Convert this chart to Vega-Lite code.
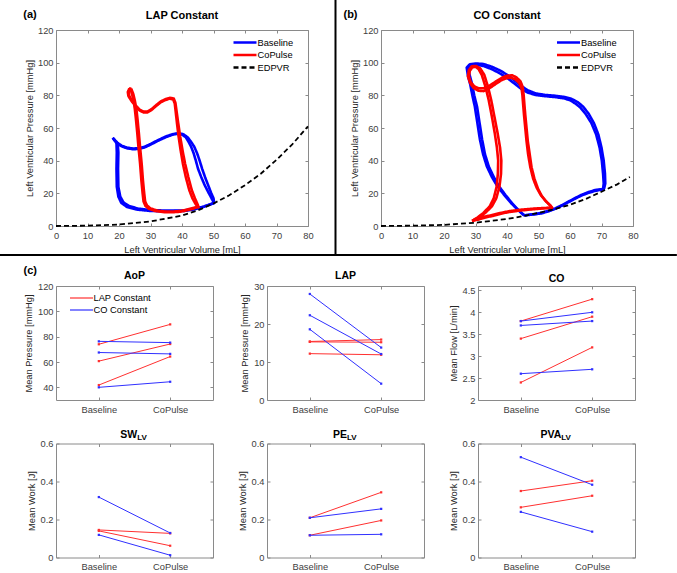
{
  "$schema": "https://vega.github.io/schema/vega-lite/v6.json",
  "autosize": {"type": "none"},
  "padding": {"left": 56, "top": 30, "right": 621, "bottom": 543},
  "background": "white",
  "config": {
    "font": "Liberation Sans",
    "view": {"stroke": "#8a8a8a", "strokeWidth": 1},
    "axis": {"domain": false, "grid": false, "labelFontSize": 9.3, "titleFontSize": 9.3, "titleFontWeight": "normal", "labelColor": "#404040", "titleColor": "#262626", "tickColor": "#8a8a8a", "tickSize": -3, "labelPadding": 6, "titlePadding": 3, "labelFlush": false, "labelOverlap": false, "format": "~r"},
    "axisX": {"labelPadding": 8, "titlePadding": 5},
    "title": {"fontSize": 11, "fontWeight": "bold", "color": "black", "offset": 8, "anchor": "middle", "frame": "group", "baseline": "alphabetic", "font": "Liberation Sans"},
    "legend": {"padding": 0, "labelFontSize": 9.3, "labelColor": "#000000", "symbolType": "M-2.3,0H2.3", "symbolSize": 100, "rowPadding": 0.5, "labelOffset": 6}
  },
  "datasets": {
    "pv": [
      {"pn":"a","s":"Baseline","c":1,"v":18.0,"p":54.0},{"pn":"a","s":"Baseline","c":1,"v":18.6,"p":52.6},{"pn":"a","s":"Baseline","c":1,"v":19.2,"p":50.5},{"pn":"a","s":"Baseline","c":1,"v":19.3,"p":45},{"pn":"a","s":"Baseline","c":1,"v":19.2,"p":35},{"pn":"a","s":"Baseline","c":1,"v":19.3,"p":24},{"pn":"a","s":"Baseline","c":1,"v":19.8,"p":18},{"pn":"a","s":"Baseline","c":1,"v":20.7,"p":14.2},{"pn":"a","s":"Baseline","c":1,"v":22.5,"p":11.7},{"pn":"a","s":"Baseline","c":1,"v":25.5,"p":10.1},{"pn":"a","s":"Baseline","c":1,"v":30,"p":9.2},{"pn":"a","s":"Baseline","c":1,"v":35.4,"p":9.0},{"pn":"a","s":"Baseline","c":1,"v":40.7,"p":9.2},{"pn":"a","s":"Baseline","c":1,"v":44,"p":10.2},{"pn":"a","s":"Baseline","c":1,"v":47,"p":11.8},{"pn":"a","s":"Baseline","c":1,"v":50.2,"p":14.1},{"pn":"a","s":"Baseline","c":1,"v":49.5,"p":16.5},{"pn":"a","s":"Baseline","c":1,"v":48.4,"p":20.5},{"pn":"a","s":"Baseline","c":1,"v":47.2,"p":25},{"pn":"a","s":"Baseline","c":1,"v":46.1,"p":30},{"pn":"a","s":"Baseline","c":1,"v":45.1,"p":35},{"pn":"a","s":"Baseline","c":1,"v":44.4,"p":40},{"pn":"a","s":"Baseline","c":1,"v":43.7,"p":44.5},{"pn":"a","s":"Baseline","c":1,"v":42.9,"p":48.5},{"pn":"a","s":"Baseline","c":1,"v":42.1,"p":51.5},{"pn":"a","s":"Baseline","c":1,"v":41.2,"p":54.3},{"pn":"a","s":"Baseline","c":1,"v":40.0,"p":56.0},{"pn":"a","s":"Baseline","c":1,"v":38.8,"p":56.5},{"pn":"a","s":"Baseline","c":1,"v":37.2,"p":56.0},{"pn":"a","s":"Baseline","c":1,"v":35.0,"p":54.5},{"pn":"a","s":"Baseline","c":1,"v":32.2,"p":52.0},{"pn":"a","s":"Baseline","c":1,"v":30.0,"p":49.8},{"pn":"a","s":"Baseline","c":1,"v":28.0,"p":48.0},{"pn":"a","s":"Baseline","c":1,"v":26.0,"p":47.2},{"pn":"a","s":"Baseline","c":1,"v":24.5,"p":47.0},{"pn":"a","s":"Baseline","c":1,"v":22.5,"p":47.6},{"pn":"a","s":"Baseline","c":1,"v":20.8,"p":48.8},{"pn":"a","s":"Baseline","c":1,"v":19.5,"p":50.5},{"pn":"a","s":"Baseline","c":1,"v":18.5,"p":52.5},{"pn":"a","s":"Baseline","c":1,"v":18.0,"p":54.0},
      {"pn":"a","s":"Baseline","c":2,"v":18.0,"p":54.0},{"pn":"a","s":"Baseline","c":2,"v":18.8,"p":52.4},{"pn":"a","s":"Baseline","c":2,"v":19.6,"p":50.3},{"pn":"a","s":"Baseline","c":2,"v":19.8,"p":45},{"pn":"a","s":"Baseline","c":2,"v":19.7,"p":35},{"pn":"a","s":"Baseline","c":2,"v":19.8,"p":24},{"pn":"a","s":"Baseline","c":2,"v":20.4,"p":18},{"pn":"a","s":"Baseline","c":2,"v":21.4,"p":14.5},{"pn":"a","s":"Baseline","c":2,"v":23.2,"p":12.2},{"pn":"a","s":"Baseline","c":2,"v":26.2,"p":10.6},{"pn":"a","s":"Baseline","c":2,"v":30.5,"p":9.7},{"pn":"a","s":"Baseline","c":2,"v":35.4,"p":9.4},{"pn":"a","s":"Baseline","c":2,"v":40.7,"p":9.5},{"pn":"a","s":"Baseline","c":2,"v":44,"p":10.5},{"pn":"a","s":"Baseline","c":2,"v":47,"p":12},{"pn":"a","s":"Baseline","c":2,"v":50.2,"p":14.1},{"pn":"a","s":"Baseline","c":2,"v":50.0,"p":17},{"pn":"a","s":"Baseline","c":2,"v":49.2,"p":20.5},{"pn":"a","s":"Baseline","c":2,"v":48.3,"p":25},{"pn":"a","s":"Baseline","c":2,"v":47.3,"p":30},{"pn":"a","s":"Baseline","c":2,"v":46.4,"p":35},{"pn":"a","s":"Baseline","c":2,"v":45.6,"p":40},{"pn":"a","s":"Baseline","c":2,"v":44.8,"p":44.5},{"pn":"a","s":"Baseline","c":2,"v":43.9,"p":48.5},{"pn":"a","s":"Baseline","c":2,"v":42.9,"p":51.5},{"pn":"a","s":"Baseline","c":2,"v":41.8,"p":54.3},{"pn":"a","s":"Baseline","c":2,"v":40.4,"p":56.2},{"pn":"a","s":"Baseline","c":2,"v":38.8,"p":56.8},{"pn":"a","s":"Baseline","c":2,"v":37.2,"p":56.3},{"pn":"a","s":"Baseline","c":2,"v":35.0,"p":54.9},{"pn":"a","s":"Baseline","c":2,"v":32.2,"p":52.4},{"pn":"a","s":"Baseline","c":2,"v":30.0,"p":50.2},{"pn":"a","s":"Baseline","c":2,"v":28.0,"p":48.4},{"pn":"a","s":"Baseline","c":2,"v":26.0,"p":47.6},{"pn":"a","s":"Baseline","c":2,"v":24.5,"p":47.4},{"pn":"a","s":"Baseline","c":2,"v":22.5,"p":48.0},{"pn":"a","s":"Baseline","c":2,"v":20.8,"p":49.2},{"pn":"a","s":"Baseline","c":2,"v":19.5,"p":51},{"pn":"a","s":"Baseline","c":2,"v":18.5,"p":53},{"pn":"a","s":"Baseline","c":2,"v":18.0,"p":54.0},
      {"pn":"a","s":"CoPulse","c":1,"v":23.6,"p":84.2},{"pn":"a","s":"CoPulse","c":1,"v":24.1,"p":81},{"pn":"a","s":"CoPulse","c":1,"v":24.6,"p":77},{"pn":"a","s":"CoPulse","c":1,"v":25.0,"p":72},{"pn":"a","s":"CoPulse","c":1,"v":25.4,"p":65},{"pn":"a","s":"CoPulse","c":1,"v":25.8,"p":57},{"pn":"a","s":"CoPulse","c":1,"v":26.2,"p":48},{"pn":"a","s":"CoPulse","c":1,"v":26.7,"p":38},{"pn":"a","s":"CoPulse","c":1,"v":27.1,"p":28},{"pn":"a","s":"CoPulse","c":1,"v":27.5,"p":20},{"pn":"a","s":"CoPulse","c":1,"v":27.8,"p":15},{"pn":"a","s":"CoPulse","c":1,"v":28.4,"p":12.3},{"pn":"a","s":"CoPulse","c":1,"v":29.5,"p":10.5},{"pn":"a","s":"CoPulse","c":1,"v":31.5,"p":9.2},{"pn":"a","s":"CoPulse","c":1,"v":34.3,"p":8.5},{"pn":"a","s":"CoPulse","c":1,"v":37.0,"p":8.4},{"pn":"a","s":"CoPulse","c":1,"v":39.6,"p":8.8},{"pn":"a","s":"CoPulse","c":1,"v":42.0,"p":9.8},{"pn":"a","s":"CoPulse","c":1,"v":43.8,"p":10.8},{"pn":"a","s":"CoPulse","c":1,"v":44.9,"p":11.8},{"pn":"a","s":"CoPulse","c":1,"v":44.3,"p":13.5},{"pn":"a","s":"CoPulse","c":1,"v":43.3,"p":17},{"pn":"a","s":"CoPulse","c":1,"v":42.3,"p":22},{"pn":"a","s":"CoPulse","c":1,"v":41.2,"p":30},{"pn":"a","s":"CoPulse","c":1,"v":40.3,"p":38},{"pn":"a","s":"CoPulse","c":1,"v":39.6,"p":46},{"pn":"a","s":"CoPulse","c":1,"v":38.9,"p":55},{"pn":"a","s":"CoPulse","c":1,"v":38.4,"p":63},{"pn":"a","s":"CoPulse","c":1,"v":38.0,"p":70},{"pn":"a","s":"CoPulse","c":1,"v":37.7,"p":75},{"pn":"a","s":"CoPulse","c":1,"v":37.2,"p":77.5},{"pn":"a","s":"CoPulse","c":1,"v":36.2,"p":78},{"pn":"a","s":"CoPulse","c":1,"v":34.8,"p":77.2},{"pn":"a","s":"CoPulse","c":1,"v":33.3,"p":75.8},{"pn":"a","s":"CoPulse","c":1,"v":31.8,"p":73.5},{"pn":"a","s":"CoPulse","c":1,"v":30.3,"p":71},{"pn":"a","s":"CoPulse","c":1,"v":29.0,"p":69.5},{"pn":"a","s":"CoPulse","c":1,"v":27.8,"p":69.5},{"pn":"a","s":"CoPulse","c":1,"v":26.5,"p":70.8},{"pn":"a","s":"CoPulse","c":1,"v":25.2,"p":73.5},{"pn":"a","s":"CoPulse","c":1,"v":24.0,"p":76.5},{"pn":"a","s":"CoPulse","c":1,"v":23.0,"p":79.5},{"pn":"a","s":"CoPulse","c":1,"v":22.8,"p":82},{"pn":"a","s":"CoPulse","c":1,"v":23.2,"p":83.8},{"pn":"a","s":"CoPulse","c":1,"v":23.6,"p":84.2},
      {"pn":"a","s":"CoPulse","c":2,"v":23.9,"p":84.0},{"pn":"a","s":"CoPulse","c":2,"v":24.5,"p":81},{"pn":"a","s":"CoPulse","c":2,"v":25.0,"p":77},{"pn":"a","s":"CoPulse","c":2,"v":25.5,"p":72},{"pn":"a","s":"CoPulse","c":2,"v":25.9,"p":65},{"pn":"a","s":"CoPulse","c":2,"v":26.3,"p":57},{"pn":"a","s":"CoPulse","c":2,"v":26.7,"p":48},{"pn":"a","s":"CoPulse","c":2,"v":27.2,"p":38},{"pn":"a","s":"CoPulse","c":2,"v":27.6,"p":28},{"pn":"a","s":"CoPulse","c":2,"v":28.0,"p":20},{"pn":"a","s":"CoPulse","c":2,"v":28.3,"p":15},{"pn":"a","s":"CoPulse","c":2,"v":28.9,"p":12.5},{"pn":"a","s":"CoPulse","c":2,"v":30,"p":10.8},{"pn":"a","s":"CoPulse","c":2,"v":32,"p":9.5},{"pn":"a","s":"CoPulse","c":2,"v":34.3,"p":8.9},{"pn":"a","s":"CoPulse","c":2,"v":37.0,"p":8.8},{"pn":"a","s":"CoPulse","c":2,"v":39.6,"p":9.2},{"pn":"a","s":"CoPulse","c":2,"v":42.0,"p":10.2},{"pn":"a","s":"CoPulse","c":2,"v":43.8,"p":11.2},{"pn":"a","s":"CoPulse","c":2,"v":45.3,"p":11.5},{"pn":"a","s":"CoPulse","c":2,"v":44.9,"p":13.5},{"pn":"a","s":"CoPulse","c":2,"v":44.1,"p":17},{"pn":"a","s":"CoPulse","c":2,"v":43.1,"p":22},{"pn":"a","s":"CoPulse","c":2,"v":42.0,"p":30},{"pn":"a","s":"CoPulse","c":2,"v":41.0,"p":38},{"pn":"a","s":"CoPulse","c":2,"v":40.2,"p":46},{"pn":"a","s":"CoPulse","c":2,"v":39.4,"p":55},{"pn":"a","s":"CoPulse","c":2,"v":38.8,"p":63},{"pn":"a","s":"CoPulse","c":2,"v":38.3,"p":70},{"pn":"a","s":"CoPulse","c":2,"v":37.9,"p":75.5},{"pn":"a","s":"CoPulse","c":2,"v":37.4,"p":78},{"pn":"a","s":"CoPulse","c":2,"v":36.2,"p":78.5},{"pn":"a","s":"CoPulse","c":2,"v":34.8,"p":77.7},{"pn":"a","s":"CoPulse","c":2,"v":33.3,"p":76.3},{"pn":"a","s":"CoPulse","c":2,"v":31.8,"p":74},{"pn":"a","s":"CoPulse","c":2,"v":30.3,"p":71.5},{"pn":"a","s":"CoPulse","c":2,"v":29.0,"p":70},{"pn":"a","s":"CoPulse","c":2,"v":27.8,"p":70},{"pn":"a","s":"CoPulse","c":2,"v":26.5,"p":71.3},{"pn":"a","s":"CoPulse","c":2,"v":25.2,"p":74},{"pn":"a","s":"CoPulse","c":2,"v":24.0,"p":77},{"pn":"a","s":"CoPulse","c":2,"v":23.2,"p":80},{"pn":"a","s":"CoPulse","c":2,"v":23.1,"p":82.5},{"pn":"a","s":"CoPulse","c":2,"v":23.5,"p":84.2},{"pn":"a","s":"CoPulse","c":2,"v":23.9,"p":84.0},
      {"pn":"a","s":"EDPVR","c":0,"v":0,"p":0},{"pn":"a","s":"EDPVR","c":0,"v":10,"p":0.2},{"pn":"a","s":"EDPVR","c":0,"v":20,"p":0.9},{"pn":"a","s":"EDPVR","c":0,"v":30,"p":2.8},{"pn":"a","s":"EDPVR","c":0,"v":40,"p":6.4},{"pn":"a","s":"EDPVR","c":0,"v":45,"p":9.5},{"pn":"a","s":"EDPVR","c":0,"v":50,"p":13.8},{"pn":"a","s":"EDPVR","c":0,"v":55,"p":18.8},{"pn":"a","s":"EDPVR","c":0,"v":60,"p":25},{"pn":"a","s":"EDPVR","c":0,"v":65,"p":32},{"pn":"a","s":"EDPVR","c":0,"v":70,"p":40.5},{"pn":"a","s":"EDPVR","c":0,"v":75,"p":50},{"pn":"a","s":"EDPVR","c":0,"v":80,"p":61},
      {"pn":"b","s":"Baseline","c":1,"v":45.5,"p":6.5},{"pn":"b","s":"Baseline","c":1,"v":47,"p":6.8},{"pn":"b","s":"Baseline","c":1,"v":49,"p":7.2},{"pn":"b","s":"Baseline","c":1,"v":51.1,"p":7.8},{"pn":"b","s":"Baseline","c":1,"v":53.2,"p":9},{"pn":"b","s":"Baseline","c":1,"v":55.3,"p":10.5},{"pn":"b","s":"Baseline","c":1,"v":57.5,"p":12.5},{"pn":"b","s":"Baseline","c":1,"v":59.6,"p":14.7},{"pn":"b","s":"Baseline","c":1,"v":61.7,"p":16.8},{"pn":"b","s":"Baseline","c":1,"v":63.8,"p":18.8},{"pn":"b","s":"Baseline","c":1,"v":65.9,"p":20.3},{"pn":"b","s":"Baseline","c":1,"v":68,"p":21.5},{"pn":"b","s":"Baseline","c":1,"v":70.5,"p":22.5},{"pn":"b","s":"Baseline","c":1,"v":70.7,"p":26},{"pn":"b","s":"Baseline","c":1,"v":70.5,"p":32},{"pn":"b","s":"Baseline","c":1,"v":70.1,"p":40},{"pn":"b","s":"Baseline","c":1,"v":69.4,"p":48},{"pn":"b","s":"Baseline","c":1,"v":68.3,"p":56},{"pn":"b","s":"Baseline","c":1,"v":66.8,"p":63},{"pn":"b","s":"Baseline","c":1,"v":65,"p":68.5},{"pn":"b","s":"Baseline","c":1,"v":63.3,"p":72.5},{"pn":"b","s":"Baseline","c":1,"v":61.7,"p":75},{"pn":"b","s":"Baseline","c":1,"v":60,"p":77},{"pn":"b","s":"Baseline","c":1,"v":58,"p":78.2},{"pn":"b","s":"Baseline","c":1,"v":55,"p":79},{"pn":"b","s":"Baseline","c":1,"v":52,"p":79.5},{"pn":"b","s":"Baseline","c":1,"v":49,"p":80.2},{"pn":"b","s":"Baseline","c":1,"v":46.5,"p":81.8},{"pn":"b","s":"Baseline","c":1,"v":44.5,"p":84},{"pn":"b","s":"Baseline","c":1,"v":42.5,"p":87},{"pn":"b","s":"Baseline","c":1,"v":40.5,"p":90},{"pn":"b","s":"Baseline","c":1,"v":38,"p":93.2},{"pn":"b","s":"Baseline","c":1,"v":35.2,"p":96},{"pn":"b","s":"Baseline","c":1,"v":32.5,"p":98},{"pn":"b","s":"Baseline","c":1,"v":30,"p":98.8},{"pn":"b","s":"Baseline","c":1,"v":28.2,"p":98.5},{"pn":"b","s":"Baseline","c":1,"v":27.6,"p":96.5},{"pn":"b","s":"Baseline","c":1,"v":28.2,"p":92},{"pn":"b","s":"Baseline","c":1,"v":28.9,"p":87},{"pn":"b","s":"Baseline","c":1,"v":29.6,"p":80},{"pn":"b","s":"Baseline","c":1,"v":30.5,"p":73},{"pn":"b","s":"Baseline","c":1,"v":31.3,"p":63},{"pn":"b","s":"Baseline","c":1,"v":32.1,"p":53},{"pn":"b","s":"Baseline","c":1,"v":33,"p":44},{"pn":"b","s":"Baseline","c":1,"v":34.2,"p":36.5},{"pn":"b","s":"Baseline","c":1,"v":35.8,"p":30},{"pn":"b","s":"Baseline","c":1,"v":37.4,"p":24.5},{"pn":"b","s":"Baseline","c":1,"v":39.5,"p":19},{"pn":"b","s":"Baseline","c":1,"v":41.6,"p":14},{"pn":"b","s":"Baseline","c":1,"v":43.5,"p":10},{"pn":"b","s":"Baseline","c":1,"v":44.8,"p":7.6},{"pn":"b","s":"Baseline","c":1,"v":45.5,"p":6.5},
      {"pn":"b","s":"Baseline","c":2,"v":45.5,"p":6.5},{"pn":"b","s":"Baseline","c":2,"v":47,"p":6.9},{"pn":"b","s":"Baseline","c":2,"v":49,"p":7.4},{"pn":"b","s":"Baseline","c":2,"v":51.1,"p":8.1},{"pn":"b","s":"Baseline","c":2,"v":53.2,"p":9.3},{"pn":"b","s":"Baseline","c":2,"v":55.3,"p":10.8},{"pn":"b","s":"Baseline","c":2,"v":57.5,"p":12.8},{"pn":"b","s":"Baseline","c":2,"v":59.6,"p":15},{"pn":"b","s":"Baseline","c":2,"v":61.7,"p":17.2},{"pn":"b","s":"Baseline","c":2,"v":63.8,"p":19.2},{"pn":"b","s":"Baseline","c":2,"v":65.9,"p":20.8},{"pn":"b","s":"Baseline","c":2,"v":68,"p":22},{"pn":"b","s":"Baseline","c":2,"v":70.8,"p":22.8},{"pn":"b","s":"Baseline","c":2,"v":71.2,"p":26},{"pn":"b","s":"Baseline","c":2,"v":71.1,"p":32},{"pn":"b","s":"Baseline","c":2,"v":70.7,"p":40},{"pn":"b","s":"Baseline","c":2,"v":70,"p":48},{"pn":"b","s":"Baseline","c":2,"v":69,"p":56},{"pn":"b","s":"Baseline","c":2,"v":67.6,"p":63},{"pn":"b","s":"Baseline","c":2,"v":65.9,"p":68.8},{"pn":"b","s":"Baseline","c":2,"v":64.2,"p":73},{"pn":"b","s":"Baseline","c":2,"v":62.5,"p":75.8},{"pn":"b","s":"Baseline","c":2,"v":60.5,"p":77.8},{"pn":"b","s":"Baseline","c":2,"v":58.3,"p":79},{"pn":"b","s":"Baseline","c":2,"v":55,"p":79.8},{"pn":"b","s":"Baseline","c":2,"v":52,"p":80.3},{"pn":"b","s":"Baseline","c":2,"v":49,"p":81.2},{"pn":"b","s":"Baseline","c":2,"v":46.5,"p":83.2},{"pn":"b","s":"Baseline","c":2,"v":44.5,"p":85.8},{"pn":"b","s":"Baseline","c":2,"v":42.5,"p":89},{"pn":"b","s":"Baseline","c":2,"v":40.5,"p":92},{"pn":"b","s":"Baseline","c":2,"v":38,"p":95},{"pn":"b","s":"Baseline","c":2,"v":35.2,"p":97.5},{"pn":"b","s":"Baseline","c":2,"v":32.5,"p":99.2},{"pn":"b","s":"Baseline","c":2,"v":30,"p":99.5},{"pn":"b","s":"Baseline","c":2,"v":28.2,"p":99},{"pn":"b","s":"Baseline","c":2,"v":27.2,"p":97},{"pn":"b","s":"Baseline","c":2,"v":27.6,"p":92},{"pn":"b","s":"Baseline","c":2,"v":28.3,"p":87},{"pn":"b","s":"Baseline","c":2,"v":29,"p":80},{"pn":"b","s":"Baseline","c":2,"v":29.8,"p":73},{"pn":"b","s":"Baseline","c":2,"v":30.6,"p":63},{"pn":"b","s":"Baseline","c":2,"v":31.4,"p":53},{"pn":"b","s":"Baseline","c":2,"v":32.4,"p":44},{"pn":"b","s":"Baseline","c":2,"v":33.6,"p":36.5},{"pn":"b","s":"Baseline","c":2,"v":35.2,"p":30},{"pn":"b","s":"Baseline","c":2,"v":36.9,"p":24.5},{"pn":"b","s":"Baseline","c":2,"v":39.1,"p":19},{"pn":"b","s":"Baseline","c":2,"v":41.3,"p":14},{"pn":"b","s":"Baseline","c":2,"v":43.4,"p":10},{"pn":"b","s":"Baseline","c":2,"v":44.8,"p":7.6},{"pn":"b","s":"Baseline","c":2,"v":45.5,"p":6.5},
      {"pn":"b","s":"CoPulse","c":1,"v":28.9,"p":3.1},{"pn":"b","s":"CoPulse","c":1,"v":31,"p":4},{"pn":"b","s":"CoPulse","c":1,"v":33.1,"p":5.2},{"pn":"b","s":"CoPulse","c":1,"v":35.5,"p":6.2},{"pn":"b","s":"CoPulse","c":1,"v":38,"p":7.5},{"pn":"b","s":"CoPulse","c":1,"v":40.5,"p":8.5},{"pn":"b","s":"CoPulse","c":1,"v":43.5,"p":9.3},{"pn":"b","s":"CoPulse","c":1,"v":46.9,"p":10},{"pn":"b","s":"CoPulse","c":1,"v":50.5,"p":10.6},{"pn":"b","s":"CoPulse","c":1,"v":54.3,"p":11.2},{"pn":"b","s":"CoPulse","c":1,"v":53.8,"p":12.5},{"pn":"b","s":"CoPulse","c":1,"v":52.4,"p":15},{"pn":"b","s":"CoPulse","c":1,"v":51,"p":18.5},{"pn":"b","s":"CoPulse","c":1,"v":49.8,"p":23},{"pn":"b","s":"CoPulse","c":1,"v":48.7,"p":29},{"pn":"b","s":"CoPulse","c":1,"v":47.8,"p":36},{"pn":"b","s":"CoPulse","c":1,"v":47.2,"p":44},{"pn":"b","s":"CoPulse","c":1,"v":46.6,"p":52},{"pn":"b","s":"CoPulse","c":1,"v":46.2,"p":60},{"pn":"b","s":"CoPulse","c":1,"v":45.8,"p":68},{"pn":"b","s":"CoPulse","c":1,"v":45.5,"p":75},{"pn":"b","s":"CoPulse","c":1,"v":45.3,"p":80},{"pn":"b","s":"CoPulse","c":1,"v":45,"p":85},{"pn":"b","s":"CoPulse","c":1,"v":44.3,"p":88.5},{"pn":"b","s":"CoPulse","c":1,"v":43,"p":91},{"pn":"b","s":"CoPulse","c":1,"v":41.6,"p":92.3},{"pn":"b","s":"CoPulse","c":1,"v":40,"p":92},{"pn":"b","s":"CoPulse","c":1,"v":38.4,"p":90.8},{"pn":"b","s":"CoPulse","c":1,"v":36.5,"p":88.5},{"pn":"b","s":"CoPulse","c":1,"v":34.5,"p":86},{"pn":"b","s":"CoPulse","c":1,"v":32.6,"p":84.3},{"pn":"b","s":"CoPulse","c":1,"v":31,"p":84.3},{"pn":"b","s":"CoPulse","c":1,"v":29.6,"p":85.5},{"pn":"b","s":"CoPulse","c":1,"v":28.5,"p":88},{"pn":"b","s":"CoPulse","c":1,"v":27.9,"p":91.5},{"pn":"b","s":"CoPulse","c":1,"v":28.2,"p":95},{"pn":"b","s":"CoPulse","c":1,"v":29,"p":97.2},{"pn":"b","s":"CoPulse","c":1,"v":30,"p":97.5},{"pn":"b","s":"CoPulse","c":1,"v":31,"p":96},{"pn":"b","s":"CoPulse","c":1,"v":32,"p":92.5},{"pn":"b","s":"CoPulse","c":1,"v":33.2,"p":85},{"pn":"b","s":"CoPulse","c":1,"v":34.2,"p":77},{"pn":"b","s":"CoPulse","c":1,"v":35.2,"p":67},{"pn":"b","s":"CoPulse","c":1,"v":36.1,"p":57},{"pn":"b","s":"CoPulse","c":1,"v":36.8,"p":48},{"pn":"b","s":"CoPulse","c":1,"v":37.2,"p":40},{"pn":"b","s":"CoPulse","c":1,"v":37.1,"p":32},{"pn":"b","s":"CoPulse","c":1,"v":36.7,"p":24},{"pn":"b","s":"CoPulse","c":1,"v":35.8,"p":17},{"pn":"b","s":"CoPulse","c":1,"v":34.5,"p":12},{"pn":"b","s":"CoPulse","c":1,"v":32.5,"p":8},{"pn":"b","s":"CoPulse","c":1,"v":30.5,"p":5},{"pn":"b","s":"CoPulse","c":1,"v":28.9,"p":3.1},
      {"pn":"b","s":"CoPulse","c":2,"v":28.9,"p":3.1},{"pn":"b","s":"CoPulse","c":2,"v":31,"p":4.5},{"pn":"b","s":"CoPulse","c":2,"v":33.1,"p":5.8},{"pn":"b","s":"CoPulse","c":2,"v":35.5,"p":6.8},{"pn":"b","s":"CoPulse","c":2,"v":38,"p":8},{"pn":"b","s":"CoPulse","c":2,"v":40.5,"p":9},{"pn":"b","s":"CoPulse","c":2,"v":43.5,"p":9.8},{"pn":"b","s":"CoPulse","c":2,"v":46.9,"p":10.4},{"pn":"b","s":"CoPulse","c":2,"v":50.5,"p":10.9},{"pn":"b","s":"CoPulse","c":2,"v":54.3,"p":11.2},{"pn":"b","s":"CoPulse","c":2,"v":53.6,"p":12.8},{"pn":"b","s":"CoPulse","c":2,"v":52.2,"p":15.5},{"pn":"b","s":"CoPulse","c":2,"v":50.7,"p":19},{"pn":"b","s":"CoPulse","c":2,"v":49.4,"p":23.5},{"pn":"b","s":"CoPulse","c":2,"v":48.3,"p":29},{"pn":"b","s":"CoPulse","c":2,"v":47.4,"p":36},{"pn":"b","s":"CoPulse","c":2,"v":46.7,"p":44},{"pn":"b","s":"CoPulse","c":2,"v":46.2,"p":52},{"pn":"b","s":"CoPulse","c":2,"v":45.8,"p":60},{"pn":"b","s":"CoPulse","c":2,"v":45.4,"p":68},{"pn":"b","s":"CoPulse","c":2,"v":45.1,"p":75},{"pn":"b","s":"CoPulse","c":2,"v":44.9,"p":80},{"pn":"b","s":"CoPulse","c":2,"v":44.6,"p":84.5},{"pn":"b","s":"CoPulse","c":2,"v":43.9,"p":87.5},{"pn":"b","s":"CoPulse","c":2,"v":42.6,"p":89.8},{"pn":"b","s":"CoPulse","c":2,"v":41.3,"p":90.8},{"pn":"b","s":"CoPulse","c":2,"v":39.8,"p":90.5},{"pn":"b","s":"CoPulse","c":2,"v":38.2,"p":89.2},{"pn":"b","s":"CoPulse","c":2,"v":36.3,"p":86.8},{"pn":"b","s":"CoPulse","c":2,"v":34.3,"p":84.2},{"pn":"b","s":"CoPulse","c":2,"v":32.6,"p":82.6},{"pn":"b","s":"CoPulse","c":2,"v":31,"p":82.8},{"pn":"b","s":"CoPulse","c":2,"v":29.4,"p":84.5},{"pn":"b","s":"CoPulse","c":2,"v":28.3,"p":87.5},{"pn":"b","s":"CoPulse","c":2,"v":27.6,"p":91.5},{"pn":"b","s":"CoPulse","c":2,"v":27.9,"p":95.5},{"pn":"b","s":"CoPulse","c":2,"v":28.8,"p":97.8},{"pn":"b","s":"CoPulse","c":2,"v":30.2,"p":98},{"pn":"b","s":"CoPulse","c":2,"v":31.5,"p":96.5},{"pn":"b","s":"CoPulse","c":2,"v":32.8,"p":92.5},{"pn":"b","s":"CoPulse","c":2,"v":34,"p":85},{"pn":"b","s":"CoPulse","c":2,"v":35,"p":77},{"pn":"b","s":"CoPulse","c":2,"v":36,"p":67},{"pn":"b","s":"CoPulse","c":2,"v":37,"p":57},{"pn":"b","s":"CoPulse","c":2,"v":37.8,"p":48},{"pn":"b","s":"CoPulse","c":2,"v":38.2,"p":40},{"pn":"b","s":"CoPulse","c":2,"v":38.1,"p":32},{"pn":"b","s":"CoPulse","c":2,"v":37.6,"p":24},{"pn":"b","s":"CoPulse","c":2,"v":36.6,"p":17},{"pn":"b","s":"CoPulse","c":2,"v":35.2,"p":12},{"pn":"b","s":"CoPulse","c":2,"v":33.1,"p":8},{"pn":"b","s":"CoPulse","c":2,"v":30.8,"p":5},{"pn":"b","s":"CoPulse","c":2,"v":28.9,"p":3.1},
      {"pn":"b","s":"EDPVR","c":0,"v":0,"p":0},{"pn":"b","s":"EDPVR","c":0,"v":10,"p":0.2},{"pn":"b","s":"EDPVR","c":0,"v":20,"p":0.7},{"pn":"b","s":"EDPVR","c":0,"v":30,"p":2},{"pn":"b","s":"EDPVR","c":0,"v":40,"p":4.3},{"pn":"b","s":"EDPVR","c":0,"v":45,"p":6},{"pn":"b","s":"EDPVR","c":0,"v":50,"p":8},{"pn":"b","s":"EDPVR","c":0,"v":55,"p":10.3},{"pn":"b","s":"EDPVR","c":0,"v":60,"p":13},{"pn":"b","s":"EDPVR","c":0,"v":65,"p":16.5},{"pn":"b","s":"EDPVR","c":0,"v":70,"p":21},{"pn":"b","s":"EDPVR","c":0,"v":75,"p":25.5},{"pn":"b","s":"EDPVR","c":0,"v":79,"p":30}
    ],
    "pts": [
      {"m":"AoP","cond":"LAP Constant","pair":1,"x":1,"y":74},{"m":"AoP","cond":"LAP Constant","pair":1,"x":2,"y":89.7},
      {"m":"AoP","cond":"LAP Constant","pair":2,"x":1,"y":60.7},{"m":"AoP","cond":"LAP Constant","pair":2,"x":2,"y":74.2},
      {"m":"AoP","cond":"LAP Constant","pair":3,"x":1,"y":41.8},{"m":"AoP","cond":"LAP Constant","pair":3,"x":2,"y":64.3},
      {"m":"AoP","cond":"CO Constant","pair":4,"x":1,"y":76.3},{"m":"AoP","cond":"CO Constant","pair":4,"x":2,"y":75.3},
      {"m":"AoP","cond":"CO Constant","pair":5,"x":1,"y":67.5},{"m":"AoP","cond":"CO Constant","pair":5,"x":2,"y":66.4},
      {"m":"AoP","cond":"CO Constant","pair":6,"x":1,"y":40},{"m":"AoP","cond":"CO Constant","pair":6,"x":2,"y":44.4},
      {"m":"LAP","cond":"LAP Constant","pair":1,"x":1,"y":15.4},{"m":"LAP","cond":"LAP Constant","pair":1,"x":2,"y":15.9},
      {"m":"LAP","cond":"LAP Constant","pair":2,"x":1,"y":15.3},{"m":"LAP","cond":"LAP Constant","pair":2,"x":2,"y":15.2},
      {"m":"LAP","cond":"LAP Constant","pair":3,"x":1,"y":12.2},{"m":"LAP","cond":"LAP Constant","pair":3,"x":2,"y":11.9},
      {"m":"LAP","cond":"CO Constant","pair":4,"x":1,"y":27.9},{"m":"LAP","cond":"CO Constant","pair":4,"x":2,"y":13.8},
      {"m":"LAP","cond":"CO Constant","pair":5,"x":1,"y":22.3},{"m":"LAP","cond":"CO Constant","pair":5,"x":2,"y":12.1},
      {"m":"LAP","cond":"CO Constant","pair":6,"x":1,"y":18.6},{"m":"LAP","cond":"CO Constant","pair":6,"x":2,"y":4.3},
      {"m":"CO","cond":"LAP Constant","pair":1,"x":1,"y":3.8},{"m":"CO","cond":"LAP Constant","pair":1,"x":2,"y":4.3},
      {"m":"CO","cond":"LAP Constant","pair":2,"x":1,"y":3.4},{"m":"CO","cond":"LAP Constant","pair":2,"x":2,"y":3.9},
      {"m":"CO","cond":"LAP Constant","pair":3,"x":1,"y":2.4},{"m":"CO","cond":"LAP Constant","pair":3,"x":2,"y":3.2},
      {"m":"CO","cond":"CO Constant","pair":4,"x":1,"y":3.8},{"m":"CO","cond":"CO Constant","pair":4,"x":2,"y":4.0},
      {"m":"CO","cond":"CO Constant","pair":5,"x":1,"y":3.7},{"m":"CO","cond":"CO Constant","pair":5,"x":2,"y":3.8},
      {"m":"CO","cond":"CO Constant","pair":6,"x":1,"y":2.6},{"m":"CO","cond":"CO Constant","pair":6,"x":2,"y":2.7},
      {"m":"SW","cond":"LAP Constant","pair":1,"x":1,"y":0.145},{"m":"SW","cond":"LAP Constant","pair":1,"x":2,"y":0.127},
      {"m":"SW","cond":"LAP Constant","pair":2,"x":1,"y":0.14},{"m":"SW","cond":"LAP Constant","pair":2,"x":2,"y":0.062},
      {"m":"SW","cond":"CO Constant","pair":3,"x":1,"y":0.318},{"m":"SW","cond":"CO Constant","pair":3,"x":2,"y":0.129},
      {"m":"SW","cond":"CO Constant","pair":4,"x":1,"y":0.119},{"m":"SW","cond":"CO Constant","pair":4,"x":2,"y":0.012},
      {"m":"PE","cond":"LAP Constant","pair":1,"x":1,"y":0.209},{"m":"PE","cond":"LAP Constant","pair":1,"x":2,"y":0.343},
      {"m":"PE","cond":"LAP Constant","pair":2,"x":1,"y":0.117},{"m":"PE","cond":"LAP Constant","pair":2,"x":2,"y":0.195},
      {"m":"PE","cond":"CO Constant","pair":3,"x":1,"y":0.209},{"m":"PE","cond":"CO Constant","pair":3,"x":2,"y":0.256},
      {"m":"PE","cond":"CO Constant","pair":4,"x":1,"y":0.117},{"m":"PE","cond":"CO Constant","pair":4,"x":2,"y":0.122},
      {"m":"PVA","cond":"LAP Constant","pair":1,"x":1,"y":0.35},{"m":"PVA","cond":"LAP Constant","pair":1,"x":2,"y":0.404},
      {"m":"PVA","cond":"LAP Constant","pair":2,"x":1,"y":0.264},{"m":"PVA","cond":"LAP Constant","pair":2,"x":2,"y":0.325},
      {"m":"PVA","cond":"CO Constant","pair":3,"x":1,"y":0.528},{"m":"PVA","cond":"CO Constant","pair":3,"x":2,"y":0.383},
      {"m":"PVA","cond":"CO Constant","pair":4,"x":1,"y":0.24},{"m":"PVA","cond":"CO Constant","pair":4,"x":2,"y":0.136}
    ]
  },
  "spacing": 256,
  "bounds": "flush",
  "resolve": {"scale": {"color": "independent", "strokeDash": "independent"}, "legend": {"color": "independent", "strokeDash": "independent"}},
  "vconcat": [
    {
      "hconcat": [
        {
          "width": 252, "height": 196,
          "title": {"text": "LAP Constant", "dy": 30.5},
          "data": {"name": "pv"},
          "layer": [
            {"transform": [{"filter": "datum.pn == 'a' && datum.s != 'EDPVR'"}],
             "mark": {"type": "line", "strokeWidth": 2.6, "strokeJoin": "round"},
             "encoding": {
               "x": {"field": "v", "type": "quantitative", "scale": {"domain": [0, 80]}, "axis": {"values": [0,10,20,30,40,50,60,70,80], "title": "Left Ventricular Volume [mL]"}},
               "y": {"field": "p", "type": "quantitative", "scale": {"domain": [0, 120]}, "axis": {"values": [0,20,40,60,80,100,120], "title": "Left Ventricular Pressure [mmHg]"}},
               "color": {"field": "s", "type": "nominal", "scale": {"domain": ["Baseline","CoPulse","EDPVR"], "range": ["#0000ff","#ff0000","#000000"]}, "legend": {"title": null, "orient": "none", "legendX": 182.5, "legendY": 6, "symbolStrokeWidth": 2.5}},
               "strokeDash": {"field": "s", "type": "nominal", "scale": {"domain": ["Baseline","CoPulse","EDPVR"], "range": [[1,0],[1,0],[5,3]]}, "legend": {"title": null, "orient": "none", "legendX": 182.5, "legendY": 6, "symbolStrokeWidth": 2.5}},
               "detail": {"field": "c", "type": "nominal"},
               "order": {"value": null}
             }},
            {"transform": [{"filter": "datum.pn == 'a' && datum.s == 'EDPVR'"}],
             "mark": {"type": "line", "strokeWidth": 1.8},
             "encoding": {
               "x": {"field": "v", "type": "quantitative", "axis": {"orient": "top", "values": [0,10,20,30,40,50,60,70,80], "labels": false, "title": null}},
               "y": {"field": "p", "type": "quantitative", "axis": {"orient": "right", "values": [0,20,40,60,80,100,120], "labels": false, "title": null}},
               "color": {"field": "s", "type": "nominal"},
               "strokeDash": {"field": "s", "type": "nominal"},
               "order": {"value": null}
             }},
            {"data": {"values": [{}]}, "mark": {"type": "rule", "strokeWidth": 2, "color": "black"},
             "encoding": {"x": {"datum": 88.73, "type": "quantitative", "axis": null}, "y": {"datum": -17.76, "type": "quantitative", "axis": null}, "y2": {"datum": 138.4}}},
            {"data": {"values": [{}]}, "mark": {"type": "rule", "strokeWidth": 2, "color": "black"},
             "encoding": {"x": {"datum": -17.8, "type": "quantitative", "axis": null}, "x2": {"datum": 197.1}, "y": {"datum": -17.76, "type": "quantitative", "axis": null}}},
            {"data": {"values": [{}]}, "mark": {"type": "text", "text": "(a)", "fontWeight": "bold", "fontSize": 11, "align": "center", "baseline": "middle"},
             "encoding": {"x": {"datum": -8.25, "type": "quantitative", "axis": null}, "y": {"datum": 129.2, "type": "quantitative", "axis": null}}},
            {"data": {"values": [{}]}, "mark": {"type": "text", "text": "(b)", "fontWeight": "bold", "fontSize": 11, "align": "center", "baseline": "middle"},
             "encoding": {"x": {"datum": 93.49, "type": "quantitative", "axis": null}, "y": {"datum": 129.2, "type": "quantitative", "axis": null}}},
            {"data": {"values": [{}]}, "mark": {"type": "text", "text": "(c)", "fontWeight": "bold", "fontSize": 11, "align": "center", "baseline": "middle"},
             "encoding": {"x": {"datum": -8.16, "type": "quantitative", "axis": null}, "y": {"datum": -27.37, "type": "quantitative", "axis": null}}}
          ],
          "resolve": {"axis": {"x": "independent", "y": "independent"}}
        },
        {
          "width": 252, "height": 196,
          "title": {"text": "CO Constant", "offset": 5.5},
          "data": {"name": "pv"},
          "layer": [
            {"transform": [{"filter": "datum.pn == 'b' && datum.s != 'EDPVR'"}],
             "mark": {"type": "line", "strokeWidth": 2.6, "strokeJoin": "round"},
             "encoding": {
               "x": {"field": "v", "type": "quantitative", "scale": {"domain": [0, 80]}, "axis": {"values": [0,10,20,30,40,50,60,70,80], "title": "Left Ventricular Volume [mL]"}},
               "y": {"field": "p", "type": "quantitative", "scale": {"domain": [0, 120]}, "axis": {"values": [0,20,40,60,80,100,120], "title": "Left Ventricular Pressure [mmHg]"}},
               "color": {"field": "s", "type": "nominal", "scale": {"domain": ["Baseline","CoPulse","EDPVR"], "range": ["#0000ff","#ff0000","#000000"]}, "legend": {"title": null, "orient": "none", "legendX": 181, "legendY": 6, "symbolStrokeWidth": 2.5}},
               "strokeDash": {"field": "s", "type": "nominal", "scale": {"domain": ["Baseline","CoPulse","EDPVR"], "range": [[1,0],[1,0],[5,3]]}, "legend": {"title": null, "orient": "none", "legendX": 181, "legendY": 6, "symbolStrokeWidth": 2.5}},
               "detail": {"field": "c", "type": "nominal"},
               "order": {"value": null}
             }},
            {"transform": [{"filter": "datum.pn == 'b' && datum.s == 'EDPVR'"}],
             "mark": {"type": "line", "strokeWidth": 1.8},
             "encoding": {
               "x": {"field": "v", "type": "quantitative", "axis": {"orient": "top", "values": [0,10,20,30,40,50,60,70,80], "labels": false, "title": null}},
               "y": {"field": "p", "type": "quantitative", "axis": {"orient": "right", "values": [0,20,40,60,80,100,120], "labels": false, "title": null}},
               "color": {"field": "s", "type": "nominal"},
               "strokeDash": {"field": "s", "type": "nominal"},
               "order": {"value": null}
             }}
          ],
          "resolve": {"axis": {"x": "independent", "y": "independent"}}
        }
      ],
      "spacing": 73,
      "bounds": "flush",
      "resolve": {"scale": {"color": "independent", "strokeDash": "independent"}, "legend": {"color": "independent", "strokeDash": "independent"}}
    },
    {
      "vconcat": [
        {
          "hconcat": [
            {
              "width": 157, "height": 114,
              "title": {"text": "AoP", "fontSize": 10.5, "offset": 1},
              "data": {"name": "pts"},
              "transform": [{"filter": "datum.m == 'AoP'"}],
              "layer": [
                {"mark": {"type": "line", "strokeWidth": 1},
                 "encoding": {
                   "x": {"field": "x", "type": "quantitative", "scale": {"domain": [0.5, 2.5]}, "axis": {"values": [1, 2], "labelExpr": "datum.value == 1 ? 'Baseline' : 'CoPulse'", "title": null}},
                   "y": {"field": "y", "type": "quantitative", "scale": {"domain": [30, 120]}, "axis": {"values": [40,60,80,100,120], "title": "Mean Pressure [mmHg]", "titlePadding": 4}},
                   "color": {"field": "cond", "type": "nominal", "scale": {"domain": ["LAP Constant","CO Constant"], "range": ["#ff3030","#3030ff"]}, "legend": {"title": null, "orient": "none", "legendX": 19.5, "legendY": 6, "symbolStrokeWidth": 1.2, "labelOffset": 6, "rowPadding": 0}},
                   "detail": {"field": "pair", "type": "nominal"}
                 }},
                {"mark": {"type": "point", "filled": true, "shape": "square", "size": 5, "opacity": 1},
                 "encoding": {
                   "x": {"field": "x", "type": "quantitative", "axis": {"orient": "top", "values": [1, 2], "labels": false, "title": null}},
                   "y": {"field": "y", "type": "quantitative", "axis": {"orient": "right", "values": [40,60,80,100,120], "labels": false, "title": null}},
                   "color": {"field": "cond", "type": "nominal"}
                 }}
              ],
              "resolve": {"axis": {"x": "independent", "y": "independent"}}
            },
            {
              "width": 157, "height": 114,
              "title": {"text": "LAP", "fontSize": 10.5, "offset": 1},
              "data": {"name": "pts"},
              "transform": [{"filter": "datum.m == 'LAP'"}],
              "layer": [
                {"mark": {"type": "line", "strokeWidth": 1},
                 "encoding": {
                   "x": {"field": "x", "type": "quantitative", "scale": {"domain": [0.5, 2.5]}, "axis": {"values": [1, 2], "labelExpr": "datum.value == 1 ? 'Baseline' : 'CoPulse'", "title": null}},
                   "y": {"field": "y", "type": "quantitative", "scale": {"domain": [0, 30]}, "axis": {"values": [0,10,20,30], "title": "Mean Pressure [mmHg]", "titlePadding": 4}},
                   "color": {"field": "cond", "type": "nominal", "scale": {"domain": ["LAP Constant","CO Constant"], "range": ["#ff3030","#3030ff"]}, "legend": null},
                   "detail": {"field": "pair", "type": "nominal"}
                 }},
                {"mark": {"type": "point", "filled": true, "shape": "square", "size": 5, "opacity": 1},
                 "encoding": {
                   "x": {"field": "x", "type": "quantitative", "axis": {"orient": "top", "values": [1, 2], "labels": false, "title": null}},
                   "y": {"field": "y", "type": "quantitative", "axis": {"orient": "right", "values": [0,10,20,30], "labels": false, "title": null}},
                   "color": {"field": "cond", "type": "nominal", "legend": null}
                 }}
              ],
              "resolve": {"axis": {"x": "independent", "y": "independent"}}
            },
            {
              "width": 157, "height": 114,
              "title": {"text": "CO", "fontSize": 10.5, "offset": 1},
              "data": {"name": "pts"},
              "transform": [{"filter": "datum.m == 'CO'"}],
              "layer": [
                {"mark": {"type": "line", "strokeWidth": 1},
                 "encoding": {
                   "x": {"field": "x", "type": "quantitative", "scale": {"domain": [0.5, 2.5]}, "axis": {"values": [1, 2], "labelExpr": "datum.value == 1 ? 'Baseline' : 'CoPulse'", "title": null}},
                   "y": {"field": "y", "type": "quantitative", "scale": {"domain": [2, 4.5]}, "axis": {"values": [2,2.5,3,3.5,4,4.5], "title": "Mean Flow [L/min]", "titlePadding": 4}},
                   "color": {"field": "cond", "type": "nominal", "scale": {"domain": ["LAP Constant","CO Constant"], "range": ["#ff3030","#3030ff"]}, "legend": null},
                   "detail": {"field": "pair", "type": "nominal"}
                 }},
                {"mark": {"type": "point", "filled": true, "shape": "square", "size": 5, "opacity": 1},
                 "encoding": {
                   "x": {"field": "x", "type": "quantitative", "axis": {"orient": "top", "values": [1, 2], "labels": false, "title": null}},
                   "y": {"field": "y", "type": "quantitative", "axis": {"orient": "right", "values": [2,2.5,3,3.5,4,4.5], "labels": false, "title": null}},
                   "color": {"field": "cond", "type": "nominal", "legend": null}
                 }}
              ],
              "resolve": {"axis": {"x": "independent", "y": "independent"}}
            }
          ],
          "spacing": 54,
          "bounds": "flush",
          "resolve": {"scale": {"color": "independent"}, "legend": {"color": "independent"}}
        },
        {
          "hconcat": [
            {
              "width": 157, "height": 114,
              "data": {"name": "pts"},
              "transform": [{"filter": "datum.m == 'SW'"}],
              "layer": [
                {"mark": {"type": "line", "strokeWidth": 1},
                 "encoding": {
                   "x": {"field": "x", "type": "quantitative", "scale": {"domain": [0.5, 2.5]}, "axis": {"values": [1, 2], "labelExpr": "datum.value == 1 ? 'Baseline' : 'CoPulse'", "title": null}},
                   "y": {"field": "y", "type": "quantitative", "scale": {"domain": [0, 0.6]}, "axis": {"values": [0,0.2,0.4,0.6], "title": "Mean Work [J]", "titlePadding": 4}},
                   "color": {"field": "cond", "type": "nominal", "scale": {"domain": ["LAP Constant","CO Constant"], "range": ["#ff3030","#3030ff"]}, "legend": null},
                   "detail": {"field": "pair", "type": "nominal"}
                 }},
                {"mark": {"type": "point", "filled": true, "shape": "square", "size": 5, "opacity": 1},
                 "encoding": {
                   "x": {"field": "x", "type": "quantitative", "axis": {"orient": "top", "values": [1, 2], "labels": false, "title": null}},
                   "y": {"field": "y", "type": "quantitative", "axis": {"orient": "right", "values": [0,0.2,0.4,0.6], "labels": false, "title": null}},
                   "color": {"field": "cond", "type": "nominal", "legend": null}
                 }},
                {"data": {"values": [{}]}, "mark": {"type": "text", "text": "SW", "fontWeight": "bold", "fontSize": 10.5, "align": "right", "baseline": "alphabetic"},
                 "encoding": {"x": {"datum": 1.537, "type": "quantitative", "axis": null}, "y": {"datum": 0.6305, "type": "quantitative", "axis": null}}},
                {"data": {"values": [{}]}, "mark": {"type": "text", "text": "LV", "fontWeight": "bold", "fontSize": 8, "align": "left", "baseline": "alphabetic"},
                 "encoding": {"x": {"datum": 1.537, "type": "quantitative", "axis": null}, "y": {"datum": 0.6158, "type": "quantitative", "axis": null}}}
              ],
              "resolve": {"axis": {"x": "independent", "y": "independent"}}
            },
            {
              "width": 157, "height": 114,
              "data": {"name": "pts"},
              "transform": [{"filter": "datum.m == 'PE'"}],
              "layer": [
                {"mark": {"type": "line", "strokeWidth": 1},
                 "encoding": {
                   "x": {"field": "x", "type": "quantitative", "scale": {"domain": [0.5, 2.5]}, "axis": {"values": [1, 2], "labelExpr": "datum.value == 1 ? 'Baseline' : 'CoPulse'", "title": null}},
                   "y": {"field": "y", "type": "quantitative", "scale": {"domain": [0, 0.6]}, "axis": {"values": [0,0.2,0.4,0.6], "title": "Mean Work [J]", "titlePadding": 4}},
                   "color": {"field": "cond", "type": "nominal", "scale": {"domain": ["LAP Constant","CO Constant"], "range": ["#ff3030","#3030ff"]}, "legend": null},
                   "detail": {"field": "pair", "type": "nominal"}
                 }},
                {"mark": {"type": "point", "filled": true, "shape": "square", "size": 5, "opacity": 1},
                 "encoding": {
                   "x": {"field": "x", "type": "quantitative", "axis": {"orient": "top", "values": [1, 2], "labels": false, "title": null}},
                   "y": {"field": "y", "type": "quantitative", "axis": {"orient": "right", "values": [0,0.2,0.4,0.6], "labels": false, "title": null}},
                   "color": {"field": "cond", "type": "nominal", "legend": null}
                 }},
                {"data": {"values": [{}]}, "mark": {"type": "text", "text": "PE", "fontWeight": "bold", "fontSize": 10.5, "align": "right", "baseline": "alphabetic"},
                 "encoding": {"x": {"datum": 1.52, "type": "quantitative", "axis": null}, "y": {"datum": 0.6305, "type": "quantitative", "axis": null}}},
                {"data": {"values": [{}]}, "mark": {"type": "text", "text": "LV", "fontWeight": "bold", "fontSize": 8, "align": "left", "baseline": "alphabetic"},
                 "encoding": {"x": {"datum": 1.52, "type": "quantitative", "axis": null}, "y": {"datum": 0.6158, "type": "quantitative", "axis": null}}}
              ],
              "resolve": {"axis": {"x": "independent", "y": "independent"}}
            },
            {
              "width": 157, "height": 114,
              "data": {"name": "pts"},
              "transform": [{"filter": "datum.m == 'PVA'"}],
              "layer": [
                {"mark": {"type": "line", "strokeWidth": 1},
                 "encoding": {
                   "x": {"field": "x", "type": "quantitative", "scale": {"domain": [0.5, 2.5]}, "axis": {"values": [1, 2], "labelExpr": "datum.value == 1 ? 'Baseline' : 'CoPulse'", "title": null}},
                   "y": {"field": "y", "type": "quantitative", "scale": {"domain": [0, 0.6]}, "axis": {"values": [0,0.2,0.4,0.6], "title": "Mean Work [J]", "titlePadding": 4}},
                   "color": {"field": "cond", "type": "nominal", "scale": {"domain": ["LAP Constant","CO Constant"], "range": ["#ff3030","#3030ff"]}, "legend": null},
                   "detail": {"field": "pair", "type": "nominal"}
                 }},
                {"mark": {"type": "point", "filled": true, "shape": "square", "size": 5, "opacity": 1},
                 "encoding": {
                   "x": {"field": "x", "type": "quantitative", "axis": {"orient": "top", "values": [1, 2], "labels": false, "title": null}},
                   "y": {"field": "y", "type": "quantitative", "axis": {"orient": "right", "values": [0,0.2,0.4,0.6], "labels": false, "title": null}},
                   "color": {"field": "cond", "type": "nominal", "legend": null}
                 }},
                {"data": {"values": [{}]}, "mark": {"type": "text", "text": "PVA", "fontWeight": "bold", "fontSize": 10.5, "align": "right", "baseline": "alphabetic"},
                 "encoding": {"x": {"datum": 1.566, "type": "quantitative", "axis": null}, "y": {"datum": 0.6305, "type": "quantitative", "axis": null}}},
                {"data": {"values": [{}]}, "mark": {"type": "text", "text": "LV", "fontWeight": "bold", "fontSize": 8, "align": "left", "baseline": "alphabetic"},
                 "encoding": {"x": {"datum": 1.566, "type": "quantitative", "axis": null}, "y": {"datum": 0.6158, "type": "quantitative", "axis": null}}}
              ],
              "resolve": {"axis": {"x": "independent", "y": "independent"}}
            }
          ],
          "spacing": 54,
          "bounds": "flush",
          "resolve": {"scale": {"color": "independent"}, "legend": {"color": "independent"}}
        }
      ],
      "spacing": 157.5,
      "bounds": "flush",
      "resolve": {"scale": {"color": "independent"}, "legend": {"color": "independent"}}
    }
  ]
}
